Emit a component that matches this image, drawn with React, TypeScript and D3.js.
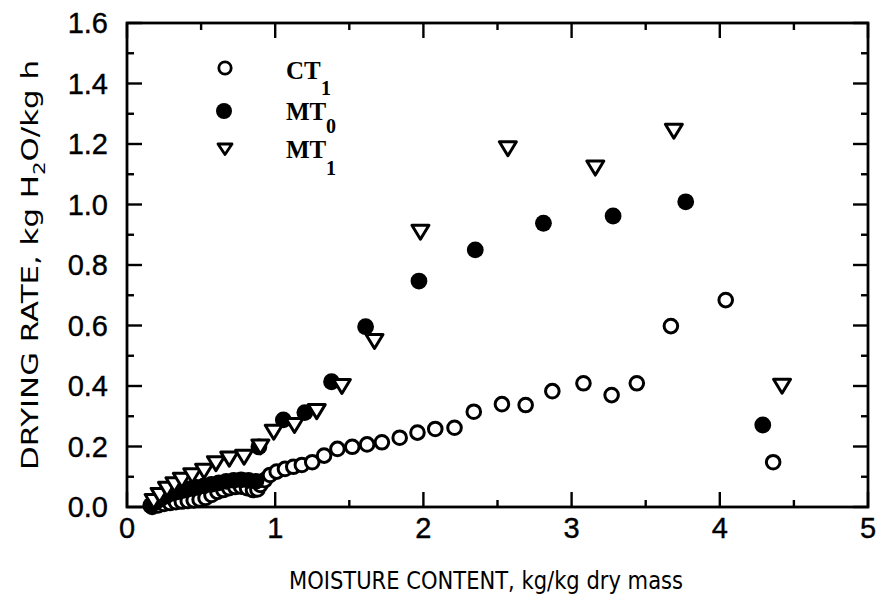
import React from "react";
import * as d3 from "d3";

// Drying-rate curves: moisture content (kg/kg dry mass) vs drying rate (kg H2O/kg h)
const ct1Moisture = [
  0.17, 0.21, 0.25, 0.29, 0.33, 0.37, 0.41, 0.45, 0.49, 0.53, 0.57, 0.61, 0.65, 0.69,
  0.73, 0.77, 0.81, 0.85, 0.88, 0.9, 0.93, 0.965, 1.01, 1.066, 1.122, 1.18, 1.25, 1.33,
  1.42, 1.52, 1.62, 1.72, 1.84, 1.96, 2.08, 2.21, 2.34, 2.53, 2.69, 2.87, 3.08, 3.27,
  3.44, 3.67, 4.04, 4.36,
];
const ct1Rate = [
  0.0, 0.005, 0.01, 0.013, 0.016, 0.018, 0.02, 0.022, 0.025, 0.03, 0.04, 0.05, 0.056, 0.062,
  0.066, 0.067, 0.062, 0.056, 0.058, 0.073, 0.089, 0.106, 0.117, 0.126, 0.133, 0.139, 0.148, 0.17,
  0.192, 0.199, 0.207, 0.214, 0.229, 0.246, 0.258, 0.262, 0.315, 0.34, 0.337, 0.383, 0.409, 0.37,
  0.409, 0.598, 0.684, 0.148,
];

const mt0Moisture = [
  0.16, 0.19, 0.22, 0.26, 0.3, 0.34, 0.38, 0.42, 0.47, 0.52, 0.57, 0.62, 0.67, 0.72,
  0.77, 0.82, 0.87, 0.89, 1.055, 1.2, 1.38, 1.61, 1.97, 2.35, 2.81, 3.28, 3.77, 4.29,
];
const mt0Rate = [
  0.005, 0.015, 0.025, 0.035, 0.045, 0.05, 0.055, 0.06, 0.065, 0.07, 0.075, 0.08, 0.085, 0.088,
  0.09, 0.088, 0.085, 0.199, 0.288, 0.312, 0.414, 0.596, 0.747, 0.85, 0.938, 0.962, 1.009, 0.271,
];

const mt1Moisture = [
  0.18, 0.22, 0.27, 0.32, 0.37, 0.44, 0.52, 0.6, 0.69, 0.79, 0.9, 0.99, 1.13, 1.28,
  1.45, 1.67, 1.98, 2.57, 3.16, 3.69, 4.42,
];
const mt1Rate = [
  0.02, 0.04, 0.06, 0.075, 0.09, 0.105, 0.12, 0.145, 0.16, 0.166, 0.2, 0.249, 0.271, 0.317,
  0.4, 0.549, 0.91, 1.186, 1.122, 1.244, 0.401,
];

const xTicks = [0, 1, 2, 3, 4, 5];
const yTicks = [0, 0.2, 0.4, 0.6, 0.8, 1.0, 1.2, 1.4, 1.6];
const xMinorTicks = [0.5, 1.5, 2.5, 3.5, 4.5];
const yMinorTicks = [0.1, 0.3, 0.5, 0.7, 0.9, 1.1, 1.3, 1.5];

const W = 881;
const H = 603;
const left = 127;
const right = 868;
const top = 23;
const bottom = 507;

const x = d3.scaleLinear().domain([0, 5]).range([left, right]);
const y = d3.scaleLinear().domain([0, 1.6]).range([bottom, top]);

const tri = "M-8.5,-6.5L8.5,-6.5L0,7.5Z";
const major = 15;
const minor = 7;
const tickFont = "'Liberation Sans', Arial, sans-serif";
const titleFont = "'DejaVu Sans', sans-serif";
const legendFont = "'Liberation Serif', 'Times New Roman', serif";

export default function App() {
  const ct1 = ct1Moisture.map((m, i) => [m, ct1Rate[i]]);
  const mt0 = mt0Moisture.map((m, i) => [m, mt0Rate[i]]);
  const mt1 = mt1Moisture.map((m, i) => [m, mt1Rate[i]]);

  return (
    <svg
      width={W}
      height={H}
      viewBox={`0 0 ${W} ${H}`}
      style={{ position: "absolute", left: 0, top: 0, background: "#fff" }}
    >
      <rect x={0} y={0} width={W} height={H} fill="#fff" />

      {/* tick marks, pointing inward on all four sides */}
      <g stroke="#000" strokeWidth={2.4}>
        {xTicks.map((t) => (
          <g key={`xt${t}`}>
            <line x1={x(t)} x2={x(t)} y1={bottom} y2={bottom - major} />
            <line x1={x(t)} x2={x(t)} y1={top} y2={top + major} />
          </g>
        ))}
        {xMinorTicks.map((t) => (
          <g key={`xm${t}`}>
            <line x1={x(t)} x2={x(t)} y1={bottom} y2={bottom - minor} />
            <line x1={x(t)} x2={x(t)} y1={top} y2={top + minor} />
          </g>
        ))}
        {yTicks.map((t) => (
          <g key={`yt${t}`}>
            <line x1={left} x2={left + major} y1={y(t)} y2={y(t)} />
            <line x1={right} x2={right - major} y1={y(t)} y2={y(t)} />
          </g>
        ))}
        {yMinorTicks.map((t) => (
          <g key={`ym${t}`}>
            <line x1={left} x2={left + minor} y1={y(t)} y2={y(t)} />
            <line x1={right} x2={right - minor} y1={y(t)} y2={y(t)} />
          </g>
        ))}
      </g>

      <rect
        x={left}
        y={top}
        width={right - left}
        height={bottom - top}
        fill="none"
        stroke="#000"
        strokeWidth={2.8}
      />

      {/* tick labels */}
      <g fontFamily={tickFont} fontSize={29} fill="#000" stroke="#000" strokeWidth={0.4}>
        {xTicks.map((t) => (
          <text key={`xl${t}`} x={x(t)} y={bottom + 31} textAnchor="middle">
            {d3.format("d")(t)}
          </text>
        ))}
        {yTicks.map((t) => (
          <text key={`yl${t}`} x={left - 19} y={y(t) + 10} textAnchor="end">
            {d3.format(".1f")(t)}
          </text>
        ))}
      </g>

      {/* axis titles */}
      <text
        x={486}
        y={589}
        textAnchor="middle"
        fontFamily={titleFont}
        fontSize={24}
        textLength={394}
        lengthAdjust="spacingAndGlyphs"
      >
        MOISTURE CONTENT, kg/kg dry mass
      </text>
      <text
        transform={`translate(38, 265) rotate(-90)`}
        textAnchor="middle"
        fontFamily={titleFont}
        fontSize={23}
        textLength={410}
        lengthAdjust="spacingAndGlyphs"
      >
        DRYING RATE, kg H<tspan dy={7} fontSize={16}>2</tspan>
        <tspan dy={-7}>O/kg h</tspan>
      </text>

      {/* series */}
      <g>
        {ct1.map(([m, r], i) => (
          <circle
            key={`c${i}`}
            cx={x(m)}
            cy={y(r)}
            r={6.8}
            fill="#fff"
            stroke="#000"
            strokeWidth={3}
          />
        ))}
      </g>
      <g>
        {mt0.map(([m, r], i) => (
          <circle key={`f${i}`} cx={x(m)} cy={y(r)} r={8.4} fill="#000" />
        ))}
      </g>
      <g>
        {mt1.map(([m, r], i) => (
          <path
            key={`t${i}`}
            d={tri}
            transform={`translate(${x(m)},${y(r)})`}
            fill="#fff"
            stroke="#000"
            strokeWidth={3}
            strokeLinejoin="round"
          />
        ))}
      </g>

      {/* legend */}
      <g>
        <circle cx={225} cy={68} r={6.2} fill="#fff" stroke="#000" strokeWidth={2.8} />
        <circle cx={224} cy={111} r={8} fill="#000" />
        <path
          d="M-7,-5L7,-5L0,5.5Z"
          transform="translate(225,149)"
          fill="#fff"
          stroke="#000"
          strokeWidth={2.8}
          strokeLinejoin="round"
        />
        <g fontFamily={legendFont} fontWeight="bold" fontSize={25} fill="#000">
          <text x={286} y={79}>
            CT<tspan x={321} y={95} fontSize={20}>1</tspan>
          </text>
          <text x={286} y={120}>
            MT<tspan x={326} y={133} fontSize={20}>0</tspan>
          </text>
          <text x={286} y={158}>
            MT<tspan x={326} y={175} fontSize={20}>1</tspan>
          </text>
        </g>
      </g>
    </svg>
  );
}
